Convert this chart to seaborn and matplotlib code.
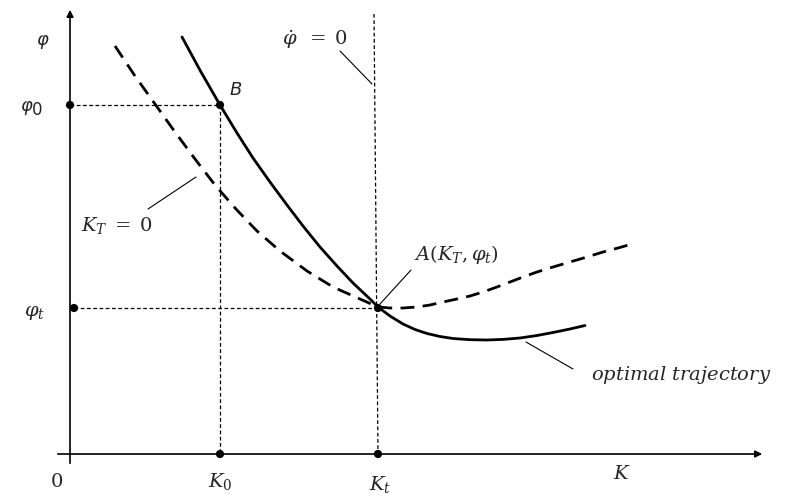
import numpy as np
import pandas as pd
import seaborn as sns
import matplotlib.pyplot as plt

sns.set_style("white")
plt.rcParams["mathtext.fontset"] = "dejavuserif"
plt.rcParams["font.family"] = ["DejaVu Sans"]

# curve points (K, phi)
traj_k = [112, 131, 150, 167, 183, 200, 217, 233, 250, 267, 283, 300, 308,
          320, 333, 345, 357, 370, 383, 400, 417, 433, 450, 467, 483, 500, 515]
traj_phi = [417, 382, 349, 321, 296, 272, 249, 228, 207, 188, 171, 155, 147,
            138, 130, 124.5, 120.5, 117.5, 115.5, 114.3, 114, 114.6, 116, 118.5,
            121.5, 125, 128.5]
kt0_k = [45, 65, 85, 105, 125, 145, 165, 187, 210, 237, 263, 290, 308,
         320, 333, 347, 360, 373, 387, 400, 413, 427, 440, 453, 467, 483, 500,
         517, 533, 548, 562]
kt0_phi = [408, 378, 350, 322, 295, 269, 246, 223, 203, 183, 167, 155, 147,
           146, 146, 147, 149, 152, 155, 158, 162, 167, 172, 177, 182, 187, 192,
           197, 202, 206, 210]

K0, Kt = 150, 308
phi0, phit = 349, 146

traj = pd.DataFrame({"K": traj_k, "phi": traj_phi})
kt0 = pd.DataFrame({"K": kt0_k, "phi": kt0_phi})

fig = plt.figure(figsize=(7.87, 5.02), dpi=100)
ax = fig.add_axes([0, 0, 1, 1])
ax.set_xlim(-70, 717)
ax.set_ylim(-47, 455)
ax.axis("off")

# axes with arrows
ax.annotate("", xy=(0, 447), xytext=(0, -12),
            arrowprops=dict(arrowstyle="-|>", color="black", lw=1.2, mutation_scale=10))
ax.annotate("", xy=(695, 0), xytext=(-15, 0),
            arrowprops=dict(arrowstyle="-|>", color="black", lw=1.2, mutation_scale=10))

# guide lines
thin = dict(color="black", lw=0.9, dashes=(3, 2))
ax.plot([0, K0], [phi0, phi0], **thin)
ax.plot([K0, K0], [phi0, 0], **thin)
ax.plot([4, Kt], [phit, phit], **thin)
ax.plot([304, Kt], [440, 0], **thin)

sns.lineplot(data=traj, x="K", y="phi", sort=False, color="black", lw=2,
             solid_joinstyle="round", ax=ax)
sns.lineplot(data=kt0, x="K", y="phi", sort=False, color="black", lw=2,
             dash_joinstyle="round", ax=ax)
ax.lines[-1].set_dashes((5, 3))

dots_k = [0, K0, 4, K0, Kt, Kt]
dots_phi = [phi0, phi0, phit, 0, 0, phit]
sns.scatterplot(x=dots_k, y=dots_phi, color="black", s=35, edgecolor="none", ax=ax, zorder=5)

fs = 13
sans = dict(fontsize=fs, style="italic", ha="center", va="center")
ax.text(-28, 415, "φ", **sans)
ax.text(-44, 349, "φ", **sans)
ax.text(-33, 345, "0", fontsize=fs - 1, ha="center", va="center")
ax.text(166, 365, "B", **sans)

fm = 14
ax.text(-35, 143, r"$\varphi_t$", fontsize=fm, ha="center", va="center")
ax.text(-13, -27, r"$\mathrm{0}$", fontsize=fm, ha="center", va="center")
ax.text(150, -27, r"$K_0$", fontsize=fm, ha="center", va="center")
ax.text(310, -30, r"$K_t$", fontsize=fm, ha="center", va="center")
ax.text(552, -19, r"$K$", fontsize=fm, ha="center", va="center")
ax.text(245, 415, r"$\dot{\varphi}\;\;=\;0$", fontsize=fm, ha="center", va="center")
ax.text(47, 230, r"$K_T\;=\;0$", fontsize=fm, ha="center", va="center")
ax.text(386, 200, r"$A(K_T,\varphi_t)$", fontsize=fm, ha="center", va="center")
ax.text(611, 80, r"$optimal\ trajectory$", fontsize=fm, ha="center", va="center")

# leader lines
lead = dict(color="black", lw=0.8)
ax.plot([270, 302], [403, 370], **lead)
ax.plot([78, 126], [245, 277], **lead)
ax.plot([341, 310], [184, 150], **lead)
ax.plot([456, 503], [112, 85], **lead)

fig.savefig("out.png", dpi=100)
